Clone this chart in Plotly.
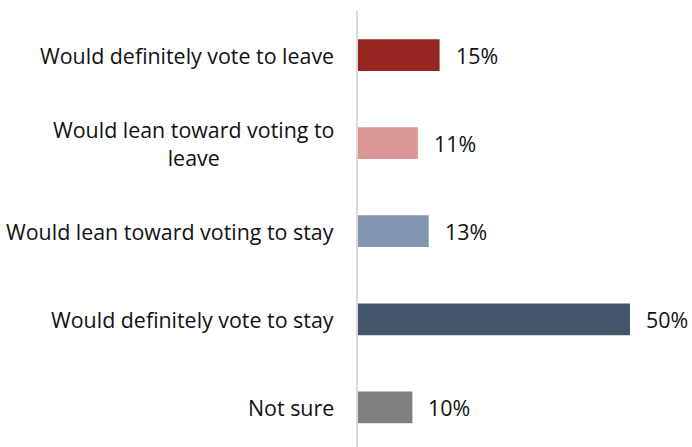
import plotly.graph_objects as go

categories = [
    "Would definitely vote to leave",
    "Would lean toward voting to<br>leave",
    "Would lean toward voting to stay",
    "Would definitely vote to stay",
    "Not sure",
]
values = [15, 11, 13, 50, 10]
value_labels = ["15%", "11%", "13%", "50%", "10%"]
colors = ["#962620", "#D99694", "#8497B0", "#44546A", "#7F7F7F"]

FONT = "Open Sans"
FONT_SIZE = 21.4
TEXT_COLOR = "#111111"

fig = go.Figure(
    go.Bar(
        x=values,
        y=list(range(len(categories))),
        orientation="h",
        marker=dict(color=colors, line=dict(width=0)),
        width=0.36,
        hoverinfo="skip",
    )
)

annotations = []
# value labels to the right of each bar
for i, (v, lab) in enumerate(zip(values, value_labels)):
    annotations.append(dict(
        x=v, y=i, xref="x", yref="y", text=lab, showarrow=False,
        xanchor="left", yanchor="middle", xshift=14,
        font=dict(family=FONT, size=FONT_SIZE, color=TEXT_COLOR),
    ))
# category labels, centred multi-line text right-aligned against the axis
for i, cat in enumerate(categories):
    annotations.append(dict(
        x=0, y=i, xref="paper", yref="y", text=cat, showarrow=False,
        xanchor="right", yanchor="middle", align="center", xshift=-22,
        font=dict(family=FONT, size=FONT_SIZE, color=TEXT_COLOR),
    ))

fig.update_layout(
    width=692, height=447,
    margin=dict(l=358, r=0, t=11, b=0),
    paper_bgcolor="white", plot_bgcolor="white",
    showlegend=False,
    annotations=annotations,
    xaxis=dict(range=[0, 61.4], visible=False, fixedrange=True),
    yaxis=dict(
        range=[4.45, -0.5], showticklabels=False, showgrid=False,
        zeroline=False, showline=True, linecolor="#D9D9D9", linewidth=2,
        ticks="", fixedrange=True,
    ),
    bargap=0.64,
)

fig.write_html("out.html")
